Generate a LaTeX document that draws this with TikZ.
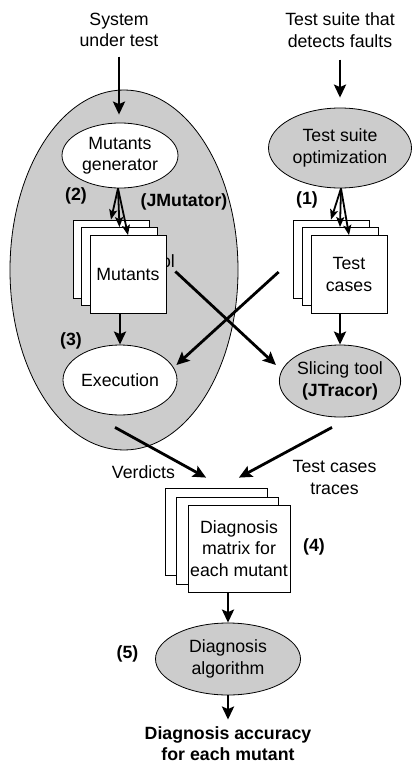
\documentclass[tikz,border=0pt]{standalone}
\usepackage{fontspec}
\setmainfont{Liberation Sans}
\usetikzlibrary{positioning,calc,arrows.meta,shapes.geometric}

\begin{document}
\begin{tikzpicture}[x=1bp,y=-1bp,
      font=\fontsize{17.8}{21.5}\selectfont,
      blob/.style={ellipse,draw,line width=0.8bp,inner sep=0pt,align=center},
      greyfill/.style={fill=gray!40},
      paper/.style={rectangle,draw,fill=white,line width=0.8bp,inner sep=0pt,
         align=center,minimum width=76bp,minimum height=78bp},
      bigpaper/.style={paper,minimum width=102bp,minimum height=87bp},
      flow/.style={line width=2.8bp,-{Stealth[length=13bp,width=12bp,inset=2.5bp]}},
      fan/.style={line width=1.8bp,-{Stealth[length=10bp,width=8bp,inset=2bp]}},
      tag/.style={font=\fontsize{17.8}{21.5}\selectfont\bfseries}]

   \useasboundingbox (0,0) rectangle (412,763);

   % inputs
   \node[align=center] (sut)   at (119,30) {System\\under test};
   \node[align=center] (suite) at (340,30) {Test suite that\\detects faults};

   % mutation side
   \node[blob,greyfill,minimum width=228bp,minimum height=360bp] (mutzone) at (124,270) {};
   \node[blob,fill=white,minimum width=116bp,minimum height=65bp] (gen) at (120,155.5)
      {Mutants\\generator};

   \node[paper] (mut3) at (111,259)               {};
   \node[paper] (mut2) at ($(mut3)+(8.5,7.5)$)   {};
   \node (frag) at (168,261) {ol};
   \node[paper] (mut1) at ($(mut2)+(8.5,8)$)     {Mutants};

   \node[blob,fill=white,minimum width=114bp,minimum height=70bp] (exec) at (120,380)
      {Execution};

   % test suite side
   \node[blob,greyfill,minimum width=143bp,minimum height=80bp] (tso) at (340,148)
      {Test suite\\optimization};

   \node[paper] (tc3) at (331,259)             {};
   \node[paper] (tc2) at ($(tc3)+(9,7.5)$)     {};
   \node[paper] (tc1) at ($(tc2)+(9,8)$)       {Test\\cases};

   \node[blob,greyfill,minimum width=114bp,minimum height=72bp] (slice) at (340,381)
      {Slicing tool\\\textbf{(JTracor)}};

   % diagnosis
   \node[bigpaper] (dm3) at (216.5,531.5)        {};
   \node[bigpaper] (dm2) at ($(dm3)+(11,9)$)     {};
   \node[bigpaper] (dm1) at ($(dm2)+(11.5,8)$)   {Diagnosis\\matrix for\\each mutant};

   \node[blob,greyfill,minimum width=145bp,minimum height=72bp] (alg) at (228,659)
      {Diagnosis\\algorithm};
   \node[tag,align=center,inner sep=0.5bp] (acc) at (228,743.5)
      {Diagnosis accuracy\\for each mutant};

   % step labels
   \node[tag] (s2)  at (76,196)    {(2)};
   \node[tag] (jm)  at (184,202)   {(JMutator)};
   \node[tag] (s1)  at (307,200)   {(1)};
   \node[tag] (s3)  at (71,340.5)  {(3)};
   \node[tag] (s4)  at (314,546.5) {(4)};
   \node[tag] (s5)  at (127.5,653.5) {(5)};
   \node (verd) at (143.5,472) {Verdicts};
   \node[align=center] (trc) at (334.5,477.5) {Test cases\\traces};

   % arrows
   \draw[flow] ($(sut.south)+(0,6)$) -- ($(gen.north)+(-1,-8)$);
   \draw[flow] ($(suite.south)+(0,9)$) -- ($(tso.north)+(0,-10)$);

   \coordinate (genout) at ($(gen.south)+(-2,0)$);
   \foreach \p in {mut3,mut2,mut1}
      \draw[fan] (genout) -- (\p.north);
   \coordinate (tsoout) at ($(tso.south)+(1,0)$);
   \foreach \p in {tc3,tc2,tc1}
      \draw[fan] (tsoout) -- (\p.north);

   \draw[flow] (exec |- mut1.south) -- (exec.north);
   \draw[flow] (slice |- tc1.south) -- (slice.north);

   % crossing
   \draw[flow] ($(mut1.east)+(9,-3)$) -- ($(slice.west)+(-3,-16)$);
   \draw[flow] ($(tc3.west)+(-14,13)$) -- ($(exec.east)+(-1,-15)$);

   % results
   \draw[flow] ($(exec.south)+(-5,12)$) -- ($(dm3.north west)+(41,-10)$);
   \draw[flow] ($(slice.south)+(-8,10)$) -- ($(dm3.north east)+(-29,-10)$);

   \draw[flow] (alg |- dm1.south) -- (alg.north);
   \coordinate (accin) at ($(acc.north)+(0,-6)$);
   \draw[flow] (alg.south) -- (accin);
\end{tikzpicture}
\end{document}
